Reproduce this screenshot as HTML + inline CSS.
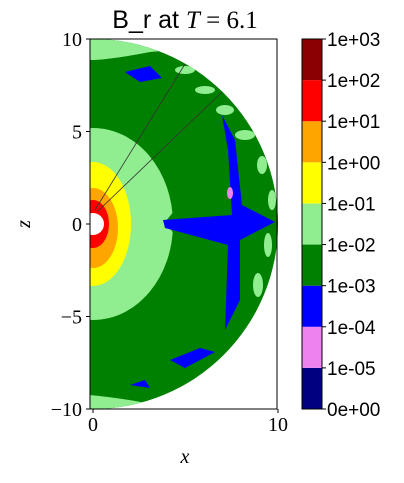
<!DOCTYPE html>
<html><head><meta charset="utf-8"><style>
body{margin:0;background:#fff;width:404px;height:478px;overflow:hidden}
svg text{fill:#000}
</style></head><body>
<svg id="chart" width="404" height="478" xmlns="http://www.w3.org/2000/svg">
<defs><clipPath id="disk"><path d="M90,39 L93,39 A185,185 0 0 1 93,409 L90,409 Z"/></clipPath></defs>
<text x="185" y="28" font-family="Liberation Sans, sans-serif" font-size="25" text-anchor="middle">B_r at <tspan font-family="Liberation Serif, serif" font-style="italic">T</tspan><tspan font-family="Liberation Serif, serif"> = 6.1</tspan></text>
<g id="field" clip-path="url(#disk)">
<rect x="90" y="39" width="190" height="370" fill="#008000"/>
<path d="M90,39 L200,39 Q180,50 150,52 Q120,58 95,60 L90,60Z" fill="#90ee90"/>
<path d="M90,395 Q140,400 170,409 L90,409Z" fill="#90ee90"/>
<ellipse cx="93" cy="224" rx="80" ry="96" fill="#90ee90"/>
<ellipse cx="93" cy="224" rx="38" ry="62" fill="#ffff00"/>
<ellipse cx="93" cy="228" rx="25" ry="40" fill="#ffa500"/>
<ellipse cx="93" cy="224" rx="16" ry="24" fill="#ff0000"/>
<circle cx="93" cy="224" r="11" fill="#fff"/>
<path d="M165,222 L175,210 L183,222 L175,235Z" fill="#008000"/>
<path d="M163,220 L232,215 L228,150 L222,115 L235,140 L242,205 L275,222 L240,240 L240,300 L225,330 L228,245 L165,228Z" fill="#0000ff"/>
<path d="M125,72 L150,66 L162,78 L140,82Z" fill="#0000ff"/>
<path d="M170,360 L200,348 L215,352 L185,368Z M130,385 L145,380 L150,388Z" fill="#0000ff"/>
<ellipse cx="230" cy="193" rx="3" ry="6" fill="#ee82ee"/>
<g fill="#90ee90"><ellipse cx="205" cy="90" rx="10" ry="4"/><ellipse cx="225" cy="110" rx="9" ry="5"/><ellipse cx="245" cy="135" rx="10" ry="5"/><ellipse cx="262" cy="165" rx="5" ry="9"/><ellipse cx="272" cy="200" rx="4" ry="10"/><ellipse cx="268" cy="245" rx="4" ry="12"/><ellipse cx="258" cy="285" rx="5" ry="12"/><ellipse cx="185" cy="70" rx="10" ry="4"/></g>
</g>
<line x1="95" y1="210" x2="185" y2="64" stroke="#333" stroke-width="0.8"/>
<line x1="97" y1="212" x2="222" y2="92" stroke="#333" stroke-width="0.8"/>
<rect x="90" y="39" width="187" height="370" fill="none" stroke="#000" stroke-width="1"/>
<g id="axes" font-family="Liberation Serif, serif" font-size="20"></g>
<g id="cbar" font-family="Liberation Sans, sans-serif" font-size="19"></g>
</svg>
<script>
const xTicks=[0,10];
const yTicks=[10,5,0,-5,-10];
const levels=["0e+00","1e-05","1e-04","1e-03","1e-02","1e-01","1e+00","1e+01","1e+02","1e+03"];
const levelColors=["#000080","#ee82ee","#0000ff","#008000","#90ee90","#ffff00","#ffa500","#ff0000","#8b0000"];
const ns="http://www.w3.org/2000/svg";
const xs=v=>93+v*18.5, ys=v=>224-v*18.5;
const ax=document.getElementById('axes'), cb=document.getElementById('cbar');
function mk(tag,attrs,parent){const e=document.createElementNS(ns,tag);for(const k in attrs)e.setAttribute(k,attrs[k]);parent.appendChild(e);return e;}
xTicks.forEach(v=>{
 const l=mk('line',{x1:xs(v),x2:xs(v),y1:409,y2:413,stroke:'#000'},ax);
 
 
 const t=mk('text',{x:xs(v),y:431,'text-anchor':'middle'},ax);t.textContent=v;
 
 
});
yTicks.forEach(v=>{
 const l=mk('line',{x1:86,x2:90,y1:ys(v),y2:ys(v),stroke:'#000'},ax);
 
 
 const t=mk('text',{x:82,y:ys(v)+7,'text-anchor':'end'},ax);t.textContent=v<0?'\u2212'+(-v):v;
 
 
});
const xl=mk('text',{x:185,y:463,'text-anchor':'middle','font-style':'italic'},ax);xl.textContent='x';


const yl=mk('text',{x:26,y:228,'text-anchor':'middle','font-style':'italic',transform:'rotate(-90 26 224)'},ax);yl.textContent='z';


const cbTop=39,cbBot=409,nb=levelColors.length,bh=(cbBot-cbTop)/nb;
levelColors.forEach((c,i)=>{
 const r=mk('rect',{x:302,y:cbBot-(i+1)*bh,width:20,height:bh,fill:c},cb);
 
 
});
mk('rect',{x:302,y:cbTop,width:20,height:cbBot-cbTop,fill:'none',stroke:'#000'},cb);
levels.forEach((s,i)=>{
 const y=cbBot-i*bh;
 mk('line',{x1:322,x2:326,y1:y,y2:y,stroke:'#000'},cb);
 const t=mk('text',{x:327,y:y+7},cb);t.textContent=s;
 
 
});
</script>
</body></html>
